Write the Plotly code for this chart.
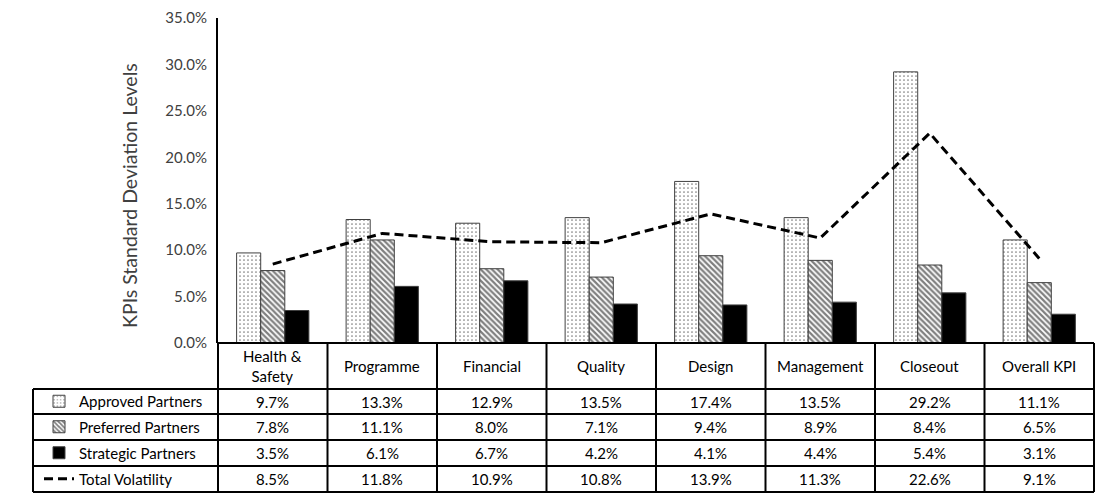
import plotly.graph_objects as go

categories = ["Health &<br>Safety", "Programme", "Financial", "Quality",
              "Design", "Management", "Closeout", "Overall KPI"]
approved = [9.7, 13.3, 12.9, 13.5, 17.4, 13.5, 29.2, 11.1]
preferred = [7.8, 11.1, 8.0, 7.1, 9.4, 8.9, 8.4, 6.5]
strategic = [3.5, 6.1, 6.7, 4.2, 4.1, 4.4, 5.4, 3.1]
volatility = [8.5, 11.8, 10.9, 10.8, 13.9, 11.3, 22.6, 9.1]

series_names = ["Approved Partners", "Preferred Partners", "Strategic Partners", "Total Volatility"]
series_values = [approved, preferred, strategic, volatility]

# the page puts the figure 8px in from the top-left corner, so the figure is
# made 8px smaller and every pixel position below is shifted by that much
OFF = 8
W, H = 1112 - OFF, 504 - OFF
FONT = "Lato"


def px(x):
    return (x - OFF) / W


def py(y):
    return 1 - (y - OFF) / H


# plot area and table in window pixels
X0, X1 = 218, 1094
YTOP, YBASE = 18, 343
row_edges = [343, 389, 414, 440, 466, 492]
legend_left = 33

fig = go.Figure()

patterns = [dict(shape=".", fgcolor="black", bgcolor="white", size=4, solidity=0.15),
            dict(shape="\\", fgcolor="black", bgcolor="white", size=4, solidity=0.55),
            None]
legends = ["legend", "legend2", "legend3", "legend4"]

for k in range(3):
    marker = dict(color="white" if patterns[k] else "black",
                  line=dict(color="#404040", width=1))
    if patterns[k]:
        marker["pattern"] = patterns[k]
    fig.add_trace(go.Bar(x=categories, y=[v / 100 for v in series_values[k]],
                         name=series_names[k], marker=marker, legend=legends[k]))

fig.add_trace(go.Scatter(x=categories, y=[v / 100 for v in volatility], name=series_names[3],
                         mode="lines", line=dict(color="black", width=3, dash="9px,5px"),
                         legend=legends[3]))

# table grid
shapes = []
n = len(categories)
for i in range(n + 1):
    xx = X0 + (X1 - X0) * i / n
    shapes.append(dict(type="line", xref="paper", yref="paper", x0=px(xx), x1=px(xx),
                       y0=py(row_edges[0]), y1=py(row_edges[-1]),
                       line=dict(color="black", width=2)))
shapes.append(dict(type="line", xref="paper", yref="paper", x0=px(X0), x1=px(X1),
                   y0=py(row_edges[0]), y1=py(row_edges[0]), line=dict(color="black", width=2)))
for ye in row_edges[1:]:
    shapes.append(dict(type="line", xref="paper", yref="paper", x0=px(legend_left), x1=px(X1),
                       y0=py(ye), y1=py(ye), line=dict(color="black", width=2)))
shapes.append(dict(type="line", xref="paper", yref="paper", x0=px(legend_left), x1=px(legend_left),
                   y0=py(row_edges[1]), y1=py(row_edges[-1]), line=dict(color="black", width=2)))

cell_font = dict(family=FONT, size=15, color="black")
annotations = []
for c in categories:
    annotations.append(dict(x=c, xref="x", yref="paper", y=py((row_edges[0] + row_edges[1]) / 2),
                            xanchor="center", yanchor="middle",
                            text=c, showarrow=False, font=cell_font))
for r, vals in enumerate(series_values):
    yc = py((row_edges[r + 1] + row_edges[r + 2]) / 2)
    for c, v in zip(categories, vals):
        annotations.append(dict(x=c, xref="x", yref="paper", y=yc, text=f"{v:.1f}%",
                                xanchor="center", yanchor="middle",
                                showarrow=False, font=cell_font))

# y axis title, placed like the original (a little below the axis middle)
annotations.append(dict(x=px(129), y=py(196), xref="paper", yref="paper", textangle=-90,
                        xanchor="center", yanchor="middle", showarrow=False,
                        text="KPIs Standard Deviation Levels",
                        font=dict(family=FONT, size=19.5, color="#404040")))

layout_legends = {}
for r, lg in enumerate(legends):
    yc = py((row_edges[r + 1] + row_edges[r + 2]) / 2)
    layout_legends[lg] = dict(x=px(39), xanchor="left", y=yc, yanchor="middle",
                              bgcolor="rgba(0,0,0,0)", borderwidth=0,
                              font=cell_font)

fig.update_layout(
    width=W, height=H,
    margin=dict(l=0, r=0, t=0, b=0, autoexpand=False),
    paper_bgcolor="white", plot_bgcolor="white",
    barmode="group", bargap=0.34, bargroupgap=0,
    font=dict(family=FONT, size=15, color="#404040"),
    xaxis=dict(domain=[px(X0), px(X1)], range=[-0.5, n - 0.5], showticklabels=False,
               showgrid=False, zeroline=False, showline=False, automargin=False),
    yaxis=dict(domain=[py(YBASE), py(YTOP)], range=[0, 0.35], dtick=0.05, tickformat=".1%",
               showgrid=False, zeroline=False, showline=True, linecolor="black", linewidth=2,
               ticks="", ticklabelstandoff=6, automargin=False),
    shapes=shapes,
    annotations=annotations,
    showlegend=True,
    **layout_legends,
)

fig.write_html("out.html")
